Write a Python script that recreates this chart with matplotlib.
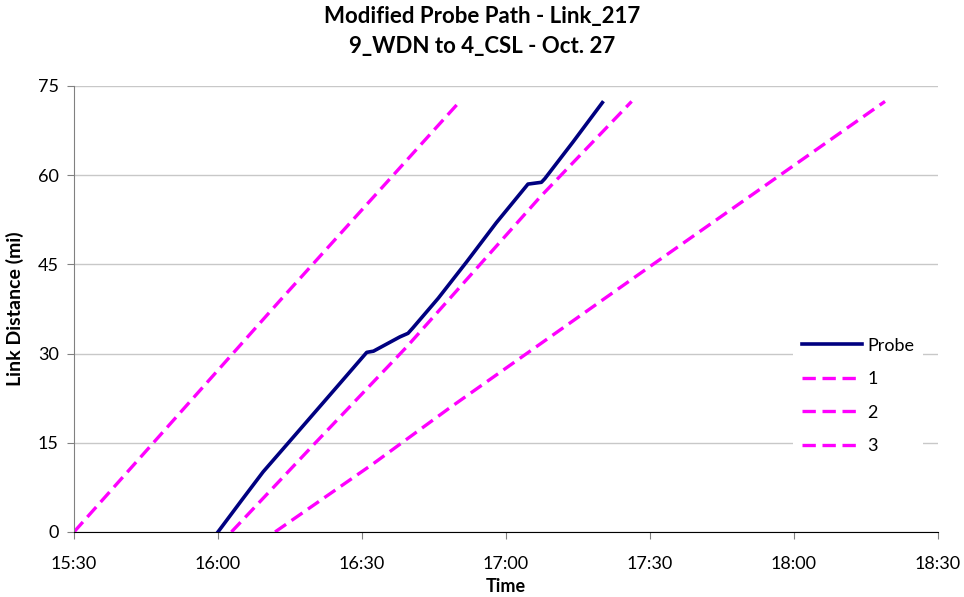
import matplotlib
matplotlib.use("Agg")
import matplotlib.pyplot as plt
import numpy as np

plt.rcParams['font.family'] = ['Lato', 'DejaVu Sans']

# time in minutes after 15:30, distance in miles
probe_t = [30.0, 35.0, 39.4, 47.8, 55.0, 61.0, 62.4, 67.9, 69.6, 70.6, 75.9, 81.8,
           88.0, 94.6, 97.4, 98.1, 104.0, 110.1]
probe_d = [0.0, 5.4, 10.1, 17.9, 24.6, 30.2, 30.4, 32.8, 33.4, 34.3, 39.3, 45.4,
           52.0, 58.5, 58.8, 59.4, 65.6, 72.2]

s1_t = [0.0, 42.9, 80.4]
s1_d = [0.0, 38.9, 72.4]

s2_t = [32.8, 50.2, 69.3, 97.1, 116.2]
s2_d = [0.0, 14.9, 31.1, 56.3, 72.4]

s3_t = [41.9, 62.4, 78.0, 119.6, 169.0]
s3_d = [0.0, 11.5, 20.7, 44.4, 72.4]

xticks = [0, 30, 60, 90, 120, 150, 180]
xlabels = ['15:30', '16:00', '16:30', '17:00', '17:30', '18:00', '18:30']
yticks = [0, 15, 30, 45, 60, 75]

fig = plt.figure(figsize=(9.64, 5.97), dpi=100)
ax = fig.add_axes([0.0768, 0.109, 0.896, 0.747])

dash = (0, (4, 2))
ax.plot(probe_t, probe_d, color='#000080', lw=2.6, label='Probe', zorder=4)
ax.plot(s1_t, s1_d, color='#FF00FF', lw=2.4, ls=dash, label='1')
ax.plot(s2_t, s2_d, color='#FF00FF', lw=2.4, ls=dash, label='2')
ax.plot(s3_t, s3_d, color='#FF00FF', lw=2.4, ls=dash, label='3')

ax.set_xlim(0, 180)
ax.set_ylim(0, 75)
ax.set_xticks(xticks)
ax.set_xticklabels(xlabels)
ax.set_yticks(yticks)
ax.tick_params(labelsize=13, length=5, color='#808080')
ax.tick_params(axis='x', pad=12)
ax.tick_params(axis='y', pad=6)
ax.grid(axis='y', color='#c8c8c8', lw=1)
ax.set_axisbelow(True)
for s in ['top', 'right']:
    ax.spines[s].set_visible(False)
ax.spines['left'].set_color('#808080')
ax.spines['bottom'].set_color('black')

ax.set_xlabel('Time', fontsize=13, fontweight='bold', labelpad=5)
ax.set_ylabel('Link Distance (mi)', fontsize=14, fontweight='bold', labelpad=10)
fig.text(0.5, 1 - 16 / 597, 'Modified Probe Path - Link_217', ha='center', va='center',
         fontsize=16, fontweight='bold')
fig.text(0.5, 1 - 47 / 597, '9_WDN to 4_CSL - Oct. 27', ha='center', va='center',
         fontsize=16, fontweight='bold')

leg = ax.legend(loc='upper left', bbox_to_anchor=(0.822, 0.476), frameon=True,
                fontsize=13, handlelength=3.3, handletextpad=0.3,
                labelspacing=0.97, borderpad=0.5)
leg.get_frame().set_facecolor('white')
leg.get_frame().set_edgecolor('none')
leg.get_frame().set_alpha(1)

plt.savefig('out.png', dpi=100)
plt.close()
